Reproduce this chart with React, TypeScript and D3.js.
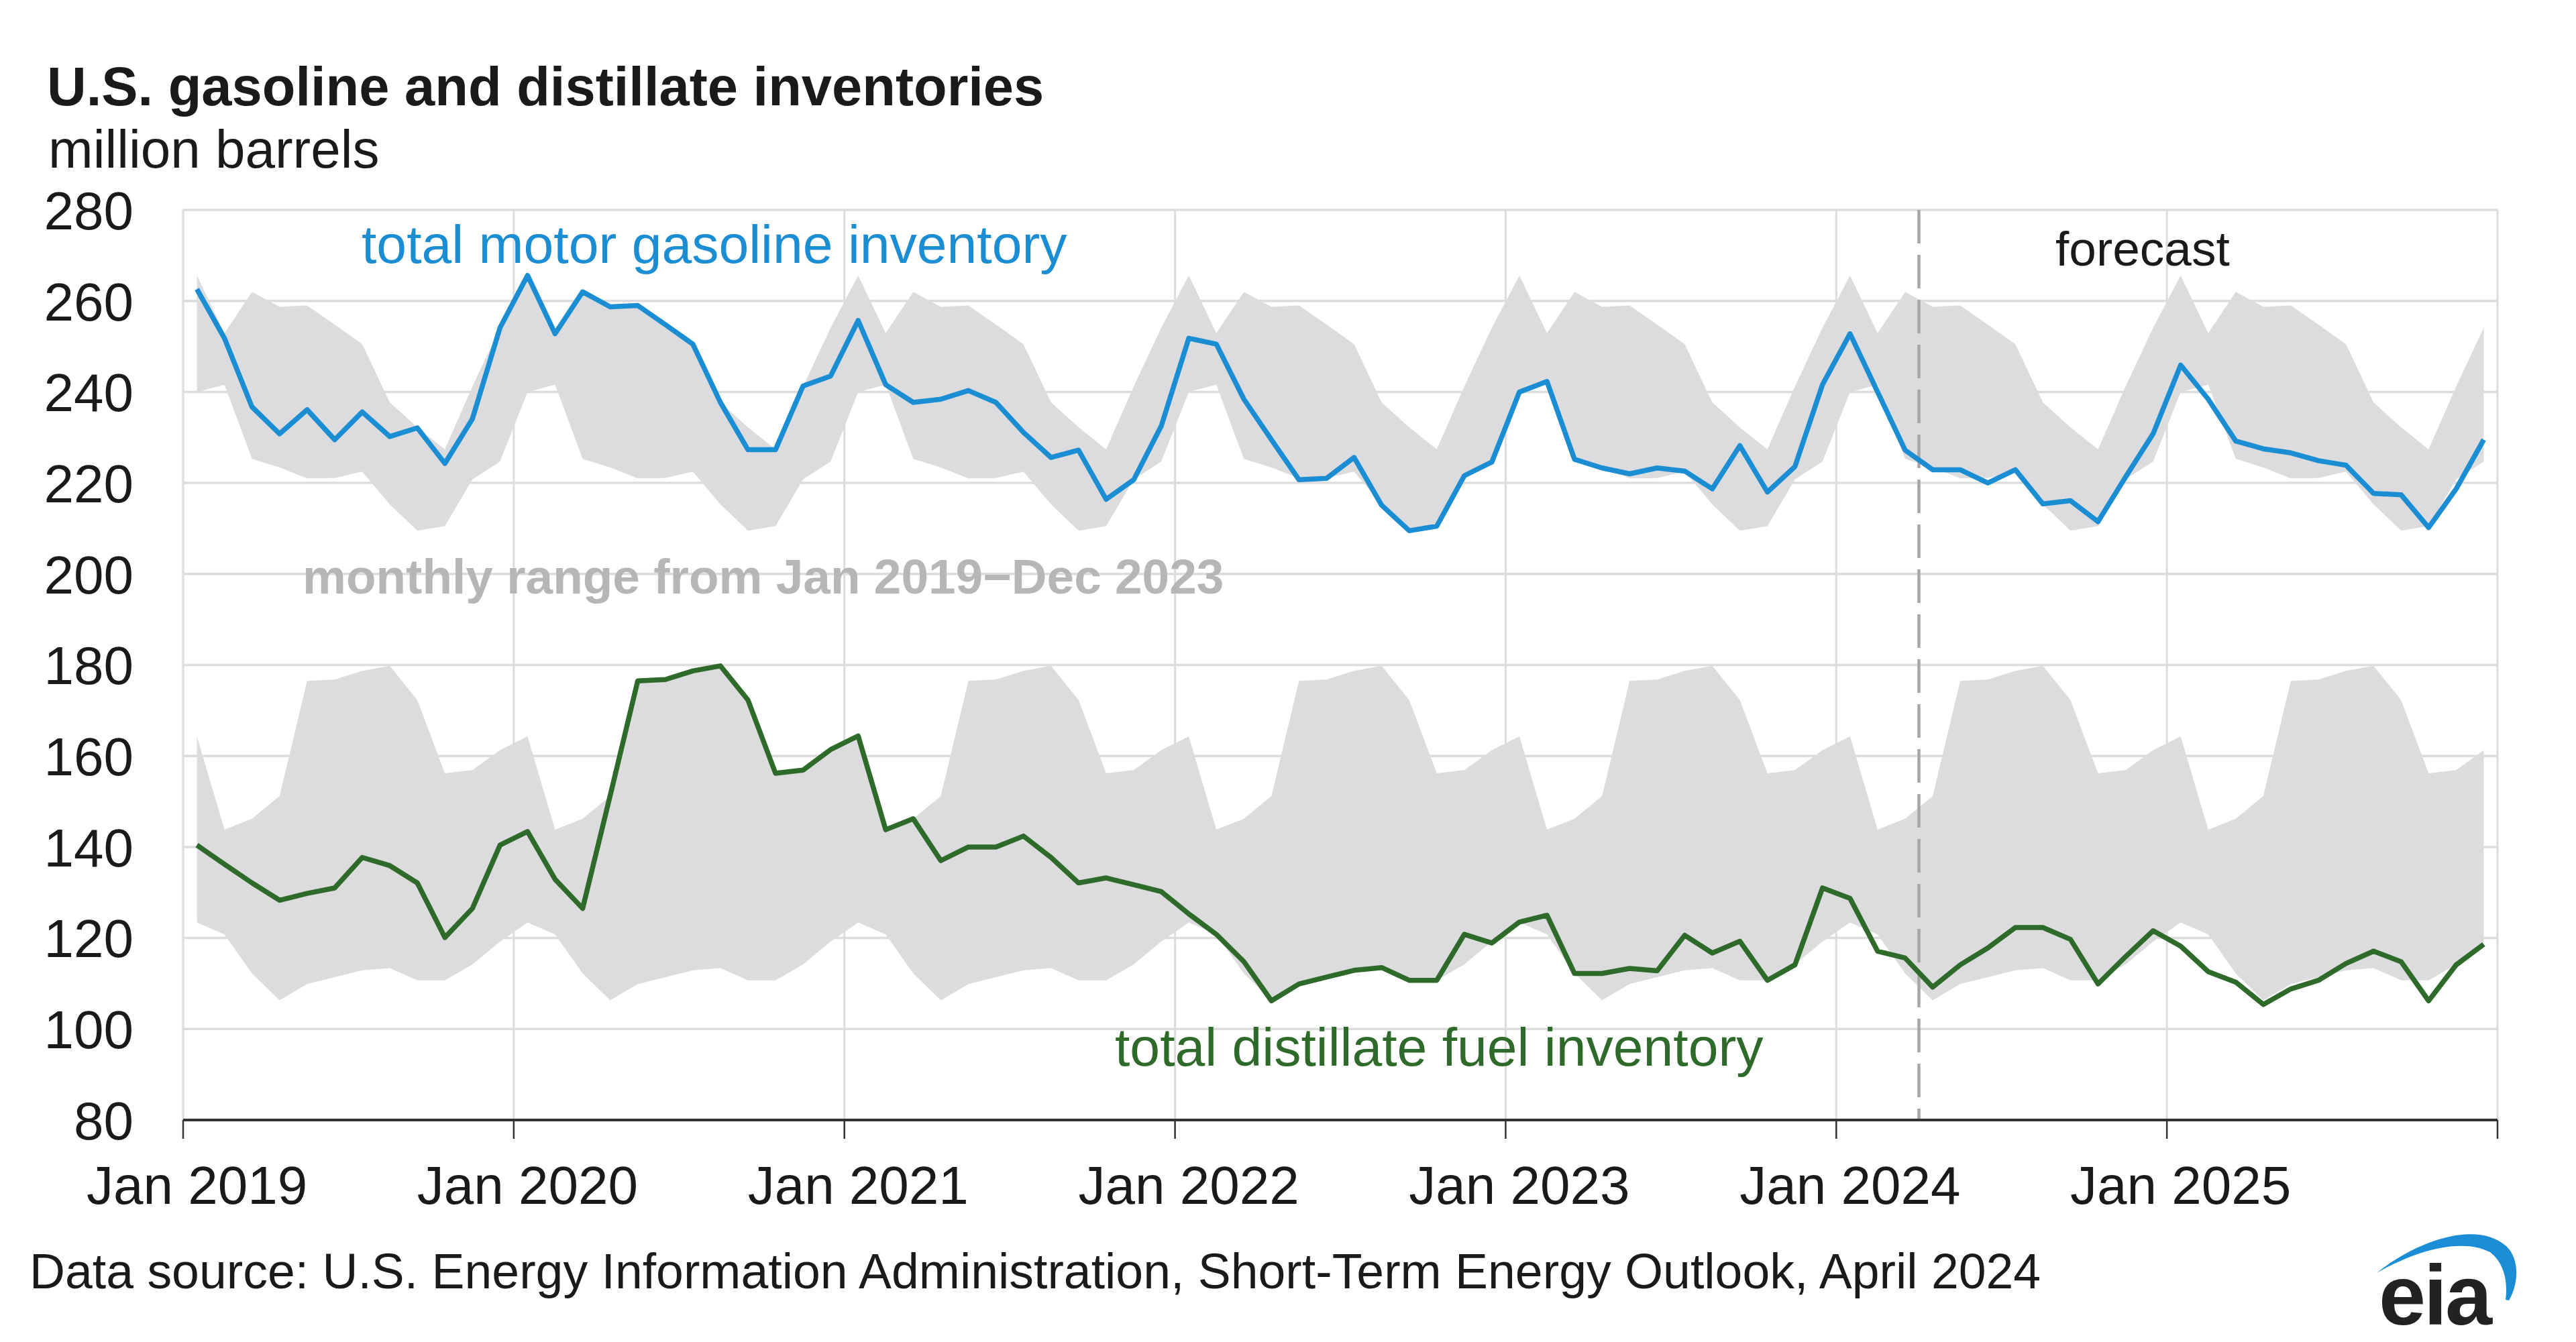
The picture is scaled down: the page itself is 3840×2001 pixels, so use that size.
import React from 'react';
import * as d3 from 'd3';

// ---- data (million barrels), monthly Jan 2019 – Dec 2025 ----
const yearLabels = ['Jan 2019', 'Jan 2020', 'Jan 2021', 'Jan 2022', 'Jan 2023', 'Jan 2024', 'Jan 2025'];
const yTicks = [80, 100, 120, 140, 160, 180, 200, 220, 240, 260, 280];

const gasoline = [
  262.6, 251.8, 236.7, 230.8, 236.1, 229.5, 235.6, 230.2, 232.1, 224.3, 234.1, 254.1,
  265.6, 252.8, 262.0, 258.7, 259.0, 254.8, 250.5, 237.7, 227.3, 227.3, 241.3, 243.5,
  255.7, 241.6, 237.7, 238.4, 240.3, 237.7, 231.1, 225.6, 227.2, 216.4, 220.7, 232.5,
  251.8, 250.5, 238.4, 229.5, 220.7, 221.0, 225.6, 215.1, 209.5, 210.5, 221.6, 224.6,
  240.0, 242.3, 225.2, 223.3, 222.0, 223.3, 222.6, 218.7, 228.2, 218.0, 223.6, 241.6,
  252.8, 240.0, 227.2, 222.9, 222.9, 220.0, 222.9, 215.4, 216.1, 211.5, 221.3, 230.8,
  245.9, 238.4, 229.2, 227.5, 226.6, 224.9, 223.9, 217.7, 217.4, 210.2, 218.7, 229.5,
];

const distillate = [
  140.4, 136.2, 132.1, 128.3, 129.8, 131.0, 137.7, 135.9, 132.1, 120.1, 126.5, 140.4,
  143.4, 132.9, 126.5, 151.3, 176.5, 176.8, 178.7, 179.8, 172.3, 156.2, 156.9, 161.4,
  164.4, 143.8, 146.2, 137.0, 140.0, 140.0, 142.4, 137.7, 132.1, 133.2, 131.7, 130.2,
  125.3, 120.8, 114.8, 106.2, 109.9, 111.4, 112.9, 113.5, 110.7, 110.7, 120.8, 118.9,
  123.5, 125.0, 112.2, 112.2, 113.3, 112.8, 120.6, 116.7, 119.3, 110.7, 114.1, 131.0,
  128.7, 117.1, 115.6, 109.2, 114.1, 117.8, 122.3, 122.3, 119.7, 109.9, 115.9, 121.6,
  118.2, 112.6, 110.3, 105.4, 108.8, 110.7, 114.4, 117.1, 114.8, 106.2, 114.1, 118.6,
];

// monthly range Jan 2019 – Dec 2023 (Jan..Dec)
const gasolineRangeMax = [265.6, 252.9, 262.0, 258.7, 259.0, 254.8, 250.5, 237.7, 232.2, 227.4, 241.2, 254.1];
const gasolineRangeMin = [240.0, 241.6, 225.3, 223.4, 221.0, 221.1, 222.5, 215.3, 209.5, 210.5, 220.8, 224.7];
const distillateRangeMax = [164.3, 143.8, 146.2, 151.2, 176.5, 176.8, 178.7, 179.8, 172.3, 156.2, 156.9, 161.3];
const distillateRangeMin = [123.4, 120.8, 112.2, 106.3, 109.9, 111.4, 112.9, 113.4, 110.7, 110.7, 114.2, 119.2];

const forecastStartIndex = 63; // April 2024

const FONT = '"Liberation Sans", Arial, Helvetica, sans-serif';
const BLUE = '#1b8dd3';
const GREEN = '#2e6a29';
const BAND = '#dcdcde';
const GRID = '#dcdcdc';

export default function App() {
  const nMonths = gasoline.length;
  const x = d3.scaleLinear().domain([0, nMonths]).range([273, 3723]);
  const y = d3.scaleLinear().domain([80, 280]).range([1670, 313]);
  const months = d3.range(nMonths);

  const line = d3
    .line<number>()
    .x((_, i) => x(i + 0.5))
    .y((d) => y(d));

  const band = (mx: number[], mn: number[]) =>
    d3
      .area<number>()
      .x((i) => x(i + 0.5))
      .y0((i) => y(mn[i % 12]))
      .y1((i) => y(mx[i % 12]))(months) as string;

  const yearBoundaries = d3.range(0, nMonths + 1, 12);
  const [x0, x1] = x.range();
  const [yb, yt] = y.range();

  return (
    <svg
      width={3840}
      height={2001}
      viewBox="0 0 3840 2001"
      style={{ position: 'absolute', left: 0, top: 0, background: '#fff' }}
      fontFamily={FONT}
    >
      <rect x={0} y={0} width={3840} height={2001} fill="#fff" />

      {/* title */}
      <text x={70} y={157} fontSize={81.3} fontWeight="bold" fill="#1a1a1a">
        U.S. gasoline and distillate inventories
      </text>
      <text x={72} y={250} fontSize={80} fill="#1a1a1a">
        million barrels
      </text>

      {/* horizontal gridlines */}
      {yTicks.slice(1).map((t) => (
        <line key={'h' + t} x1={x0} x2={x1} y1={y(t)} y2={y(t)} stroke={GRID} strokeWidth={3.5} />
      ))}
      {/* vertical gridlines */}
      {yearBoundaries.map((b) => (
        <line key={'v' + b} x1={x(b)} x2={x(b)} y1={yt} y2={yb} stroke={GRID} strokeWidth={3} />
      ))}

      {/* ranges */}
      <path d={band(gasolineRangeMax, gasolineRangeMin)} fill={BAND} />
      <path d={band(distillateRangeMax, distillateRangeMin)} fill={BAND} />

      {/* forecast divider */}
      <line
        x1={x(forecastStartIndex)}
        x2={x(forecastStartIndex)}
        y1={yt}
        y2={yb}
        stroke="#a6a6a6"
        strokeWidth={4.5}
        strokeDasharray="50,17"
      />

      {/* series */}
      <path d={line(gasoline) as string} fill="none" stroke={BLUE} strokeWidth={7.5} strokeLinejoin="round" />
      <path d={line(distillate) as string} fill="none" stroke={GREEN} strokeWidth={7.5} strokeLinejoin="round" />

      {/* x axis */}
      <line x1={x0} x2={x1} y1={yb} y2={yb} stroke="#333" strokeWidth={4} />
      {yearBoundaries.map((b) => (
        <line key={'t' + b} x1={x(b)} x2={x(b)} y1={yb} y2={yb + 28} stroke="#333" strokeWidth={2.5} />
      ))}
      {yearLabels.map((lab, k) => (
        <text key={lab} x={x(k * 12 + 0.5)} y={1795} fontSize={80} textAnchor="middle" fill="#1a1a1a">
          {lab}
        </text>
      ))}

      {/* y axis labels */}
      {yTicks.map((t) => (
        <text key={'y' + t} x={199} y={y(t)} dy="0.36em" fontSize={80} textAnchor="end" fill="#1a1a1a">
          {t}
        </text>
      ))}

      {/* annotations */}
      <text x={539} y={392} fontSize={80.5} fill={BLUE}>
        total motor gasoline inventory
      </text>
      <text x={451} y={885} fontSize={73} fontWeight="bold" fill="#b6b6b6">
        monthly range from Jan 2019−Dec 2023
      </text>
      <text x={1662} y={1589} fontSize={80.5} fill={GREEN}>
        total distillate fuel inventory
      </text>
      <text x={3064} y={396} fontSize={73} fill="#1a1a1a">
        forecast
      </text>

      {/* source */}
      <text x={44} y={1921} fontSize={73.4} fill="#1a1a1a">
        Data source: U.S. Energy Information Administration, Short-Term Energy Outlook, April 2024
      </text>

      {/* eia logo */}
      <path
        d="M3543 1898 C3600 1852, 3690 1818, 3736 1858 C3757 1878, 3754 1915, 3740 1939 L3735 1938 C3739 1907, 3731 1882, 3712 1867 C3672 1846, 3605 1862, 3543 1898 Z"
        fill="#1a8dd6"
      />
      <text x={3546} y={1975} fontSize={126} fontWeight="bold" fill="#222" letterSpacing={-3}>
        eia
      </text>
    </svg>
  );
}
